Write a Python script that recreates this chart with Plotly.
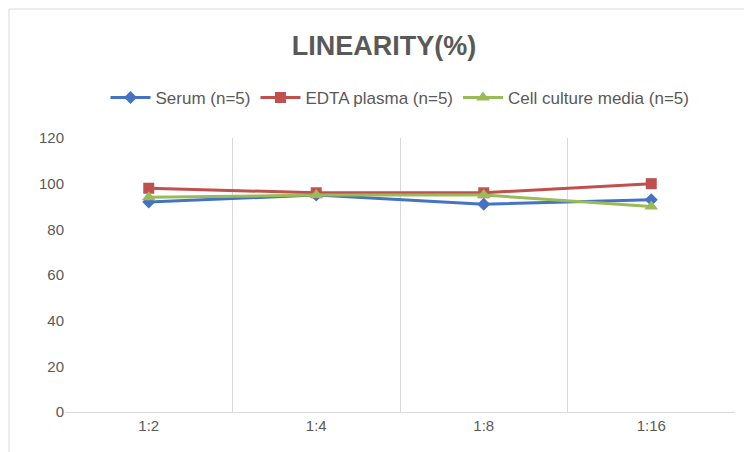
import plotly.graph_objects as go

categories = ["1:2", "1:4", "1:8", "1:16"]
serum = [92, 95, 91, 93]
edta = [98, 96, 96, 100]
cell = [94, 95, 95, 90]

fig = go.Figure()
fig.add_trace(go.Scatter(x=categories, y=serum, name="Serum (n=5)", mode="lines+markers",
                         line=dict(color="#4472C4", width=3), marker=dict(symbol="diamond", size=10)))
fig.add_trace(go.Scatter(x=categories, y=edta, name="EDTA plasma (n=5)", mode="lines+markers",
                         line=dict(color="#C0504D", width=3), marker=dict(symbol="square", size=11)))
fig.add_trace(go.Scatter(x=categories, y=cell, name="Cell culture media (n=5)", mode="lines+markers",
                         line=dict(color="#9BBB59", width=3), marker=dict(symbol="triangle-up", size=12)))

W, H = 752, 452
l, r, t, b = 57, 25, 130, 48
pw, ph = W - l - r, H - t - b
fig.update_layout(
    width=W, height=H, margin=dict(l=l, r=r, t=t, b=b, autoexpand=False),
    paper_bgcolor="white", plot_bgcolor="white",
    font=dict(family="Liberation Sans, Arial", size=15, color="#595959"),
    title=dict(text="<b>LINEARITY(%)</b>", x=0.5, xanchor="center", y=1 - 38 / H, yanchor="middle",
               font=dict(size=27, color="#595959")),
    legend=dict(orientation="h", x=0.5, xanchor="center", y=(H - b - 90) / ph, yanchor="middle",
                font=dict(size=17, color="#595959"), itemwidth=40),
    xaxis=dict(type="category", tickson="boundaries", showgrid=True, gridcolor="#D9D9D9",
               range=[-0.5, 3.5], showline=True, linecolor="#D9D9D9", ticks="",
               tickfont=dict(size=15), automargin=False),
    yaxis=dict(range=[0, 120], dtick=20, showgrid=False, zeroline=False, ticks="",
               showline=False, tickfont=dict(size=15), automargin=False),
    shapes=[dict(type="rect", xref="paper", yref="paper",
                 x0=-(l - 1) / pw, x1=1 + (r - 1) / pw, y0=-(b - 1) / ph, y1=1 + (t - 1) / ph,
                 line=dict(color="#D9D9D9", width=1))],
)
fig.write_html("out.html")
